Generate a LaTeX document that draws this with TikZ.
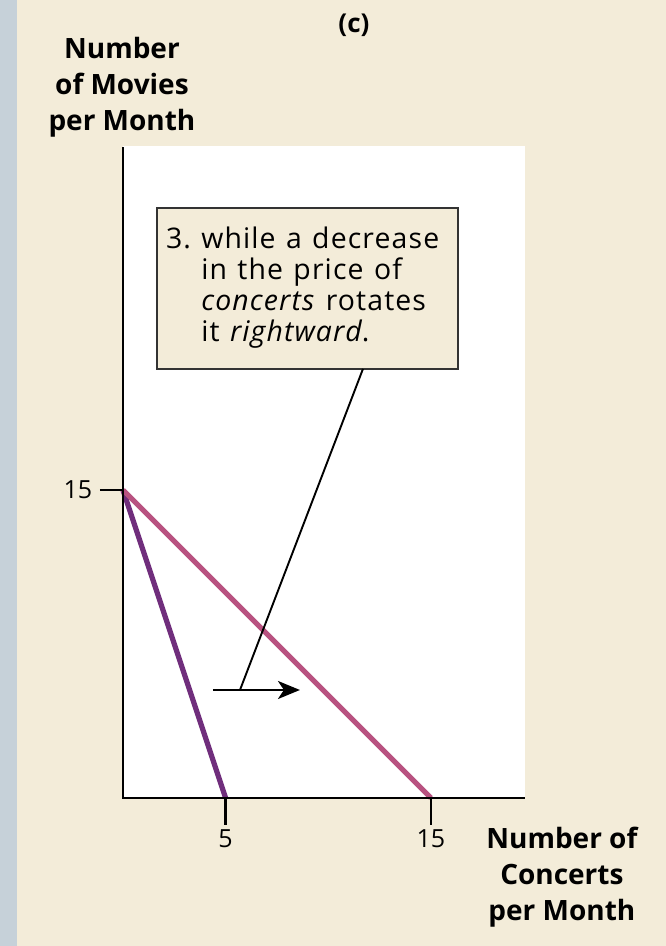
\documentclass[tikz,border=0pt]{standalone}
\usepackage{fontspec}
\setmainfont{Open Sans}
\usetikzlibrary{arrows.meta}
\definecolor{cream}{RGB}{243,236,217}
\definecolor{strip}{RGB}{198,209,217}
\definecolor{oldline}{RGB}{112,46,124}
\definecolor{newline}{RGB}{184,82,128}
\tikzset{
  axislabel/.style={font=\fontsize{14}{18}\selectfont\bfseries,align=center},
  ticklabel/.style={font=\fontsize{12.5}{15}\selectfont},
  budget/.style={line width=2.6pt},
}
\begin{document}
\begin{tikzpicture}[x=10.27pt,y=10.27pt]
\useasboundingbox (-5.99,-7.21) rectangle (26.45,38.87);
\fill[cream] (-5.99,-7.21) rectangle (26.45,38.87);
\fill[strip] (-5.99,-7.21) rectangle (-5.16,38.87);
\fill[white] (0,0) rectangle (19.58,31.76);
%\draw[help lines] (0,0) grid (20,31);
\path
(0,0) coordinate (O)
(0,31.7) coordinate (ytop)
(19.6,0) coordinate (xend)
(0,15) coordinate (m15)
(5,0) coordinate (c5)
(15,0) coordinate (c15)
(-1.12,15) coordinate (m15t)
(5,-1.3) coordinate (c5t)
(15,-1.3) coordinate (c15t)
(4.38,5.26) coordinate (a1)
(8.62,5.26) coordinate (a2)
(5.70,5.26) coordinate (lead)
(11.25,37.65) node (title) {\fontsize{13}{15}\selectfont\bfseries (c)}
(-0.05,34.6) node[axislabel] (ylab) {Number\\of Movies\\per Month}
(21.38,-3.85) node[axislabel] (xlab) {Number of\\Concerts\\per Month}
(-2.2,15) node[ticklabel] (l15) {15}
(5,-1.98) node[ticklabel] (l5) {5}
(15,-1.98) node[ticklabel] (lx15) {15}
(8.99,24.82) node[draw=black!80,line width=0.9pt,fill=cream,text width=141.6pt,
  minimum height=80.5pt,inner xsep=4.5pt,align=left] (box)
  {\fontsize{14.2}{15.5}\selectfont\addfontfeature{LetterSpace=4}\spaceskip=5.2pt%
   \begin{tabular}{@{}l@{\hspace{5.2pt}}l@{}}
   3.&while a decrease\\
   &in the price of\\
   &\textit{concerts} rotates\\
   &it \textit{rightward}.
   \end{tabular}};
\draw[budget,oldline] (m15) -- (c5);
\draw[budget,newline] (m15) -- (c15);
\draw[line width=1.2pt] (ytop) -- (O) -- (xend);
\draw[line width=1.2pt] (m15t) -- (m15);
\draw[line width=1.2pt] (c5) -- (c5t);
\draw[line width=1.2pt] (c15) -- (c15t);
\draw[line width=0.95pt] (11.69,20.9) -- (lead);
\draw[line width=1.2pt,-{Stealth[length=11pt,width=9pt,inset=3pt]}] (a1) -- (a2);
\end{tikzpicture}
\end{document}
